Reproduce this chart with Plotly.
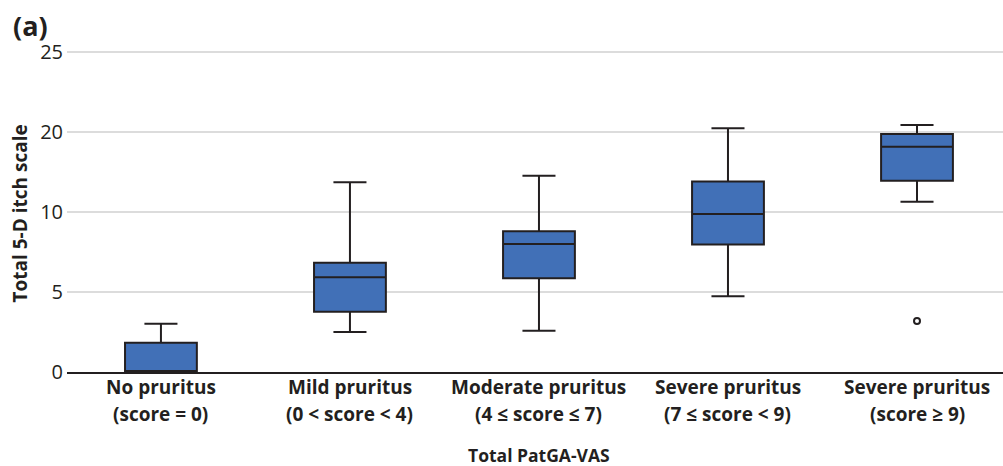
import plotly.graph_objects as go

categories = [
    "No pruritus<br>(score = 0)",
    "Mild pruritus<br>(0 < score < 4)",
    "Moderate pruritus<br>(4 ≤ score ≤ 7)",
    "Severe pruritus<br>(7 ≤ score < 9)",
    "Severe pruritus<br>(score ≥ 9)",
]
# values in axis units (gridlines evenly spaced, labelled 0, 5, 10, 20, 25)
lower = [0.0, 2.5, 2.58, 4.73, 10.64]
q1 = [0.0, 3.77, 5.86, 7.98, 11.96]
median = [0.0, 5.92, 8.0, 9.88, 14.08]
q3 = [1.83, 6.83, 8.81, 11.92, 14.88]
upper = [3.02, 11.86, 12.27, 15.25, 15.44]
outlier_cat = [4]
outlier_val = [3.19]

y_tickvals = [0, 5, 10, 15, 20]
y_ticktext = ["0", "5", "10", "20", "25"]

x_title = "Total PatGA-VAS"
y_title = "Total 5-D itch scale"
panel_label = "(a)"

FONT = "Open Sans"
DARK = "#231f20"
PLOT_H = 466 - 49 - 94

fig = go.Figure()
fig.add_trace(go.Box(
    x=list(range(len(categories))),
    q1=q1, median=median, q3=q3,
    lowerfence=lower, upperfence=upper,
    fillcolor="#4170b7",
    line=dict(color=DARK, width=2),
    whiskerwidth=0.46,
    width=0.38,
    boxpoints=False,
    showlegend=False,
))
fig.add_trace(go.Scatter(
    x=outlier_cat, y=outlier_val, mode="markers",
    marker=dict(symbol="circle-open", size=6, color=DARK, line=dict(width=2, color=DARK)),
    showlegend=False,
))

annotations = []
for i, c in enumerate(categories):
    lines = c.split("<br>")
    for j, (txt, ypx) in enumerate(zip(lines, [387, 414])):
        annotations.append(dict(
            text="<b>" + txt + "</b>", xref="x", yref="paper",
            x=i, y=-(ypx - 372) / PLOT_H, xanchor="center", yanchor="middle",
            showarrow=False, font=dict(size=19, family=FONT, color=DARK),
        ))
annotations.append(dict(
    text="<b>" + x_title + "</b>", xref="paper", yref="paper",
    x=(539 - 67) / 936, y=-(455 - 372) / PLOT_H, xanchor="center", yanchor="middle",
    showarrow=False, font=dict(size=17.5, family=FONT, color=DARK),
))
annotations.append(dict(
    text="<b>" + y_title + "</b>", xref="paper", yref="paper", textangle=-90,
    x=(19 - 67) / 936, y=(372 - 213.5) / PLOT_H, xanchor="center", yanchor="middle",
    showarrow=False, font=dict(size=19, family=FONT, color=DARK),
))
annotations.append(dict(
    text="<b>" + panel_label + "</b>", xref="paper", yref="paper",
    x=(11 - 67) / 936, y=1 + (49 - 5) / PLOT_H,
    xanchor="left", yanchor="top", showarrow=False,
    font=dict(size=27, family=FONT, color=DARK),
))

fig.update_layout(
    width=1003, height=466,
    margin=dict(l=67, r=0, t=49, b=94),
    paper_bgcolor="white", plot_bgcolor="white",
    font=dict(family=FONT, color=DARK),
    xaxis=dict(
        range=[-0.497, 4.455],
        tickvals=list(range(len(categories))),
        showticklabels=False,
        showgrid=False, zeroline=False,
        showline=True, linecolor=DARK, linewidth=2,
        ticks="",
    ),
    yaxis=dict(
        range=[0, 20.2],
        tickvals=y_tickvals, ticktext=y_ticktext,
        tickfont=dict(size=20, family=FONT, color=DARK),
        ticklabelstandoff=3,
        showgrid=True, gridcolor="#dcdcdc", gridwidth=2,
        zeroline=False, showline=False, ticks="",
    ),
    annotations=annotations,
)

fig.write_html("out.html")
